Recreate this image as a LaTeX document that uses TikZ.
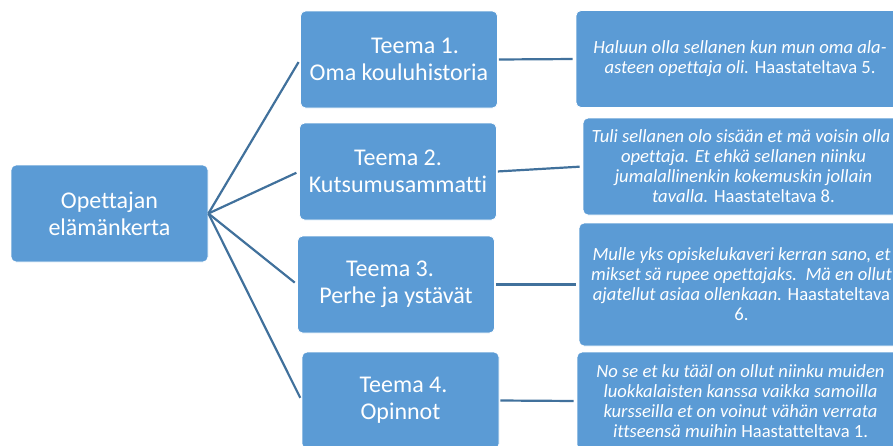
\documentclass[tikz,border=0pt]{standalone}
\usepackage{fontspec}
\setmainfont{Carlito}[Ligatures={NoCommon}]
\usepackage{tikz}
\usetikzlibrary{positioning}
\definecolor{boxblue}{HTML}{5B9BD5}
\definecolor{lineblue}{HTML}{41719C}

\begin{document}
\begin{tikzpicture}[
  x=1pt, y=-1pt,
  mybox/.style={draw=white,line width=0.8pt,fill=boxblue,rounded corners=5pt,
    text=white,align=center,inner sep=0pt},
  themebox/.style={mybox,minimum width=197pt,minimum height=97pt,
    font=\fontsize{24}{27}\selectfont},
  quotebox/.style={mybox,minimum height=97pt,
    font=\fontsize{18.6}{20}\selectfont},
  myline/.style={draw=lineblue,line width=2.2pt}
]
\useasboundingbox (0,0) rectangle (893,445);

\node[themebox] (root) at (109.5,213.5) {Opettajan\\elämänkerta};

\node[themebox] (t1) at (399,59.5) {\hspace*{32pt}Teema 1.\\Oma kouluhistoria};
\node[themebox] (t2) at (398,171.5) {Teema 2.\\Kutsumusammatti};
\node[themebox] (t3) at (396,284.5) {\hspace*{-12pt}Teema 3.\\Perhe ja ystävät};
\node[themebox] (t4) at (400.5,400.5) {\hspace*{6pt}Teema 4.\\Opinnot};

\node[quotebox,minimum width=328pt] (q1) at (740,59)
  {\textit{Haluun olla sellanen kun mun oma ala-}\\
   \textit{asteen opettaja oli.} Haastateltava 5.};
\node[quotebox,minimum width=321pt] (q2) at (743.5,166.5)
  {\hspace*{-5pt}\textit{Tuli sellanen olo sisään et mä voisin olla}\\
   \textit{opettaja. Et ehkä sellanen niinku}\\
   \textit{jumalallinenkin kokemuskin jollain}\\
   \textit{tavalla.} Haastateltava 8.};
\node[quotebox,minimum width=325pt,minimum height=123pt] (q3) at (741.5,284.5)
  {\textit{Mulle yks opiskelukaveri kerran sano, et}\\
   \textit{mikset sä rupee opettajaks.\ \ Mä en ollut}\\
   \textit{ajatellut asiaa ollenkaan.} Haastateltava\\
   6.};
\node[quotebox,minimum width=327pt,minimum height=98pt] (q4) at (740.5,401)
  {\textit{No se et ku tääl on ollut niinku muiden}\\
   \textit{luokkalaisten kanssa vaikka samoilla}\\
   \textit{kursseilla et on voinut vähän verrata}\\
   \textit{ittseensä muihin} Haastatteltava 1.};

% haarat
\path[myline,shorten >=3pt]
  (root.east) edge (t1.west)
  (root.east) edge (t2.west)
  (root.east) edge (t3.west)
  (root.east) edge (t4.west)
;
\path[myline,shorten >=3pt,shorten <=1pt]
  (t1.east) edge (q1.west)
  (t2.east) edge (q2.west)
  (t3.east) edge (q3.west)
  (t4.east) edge (q4.west)
;

\end{tikzpicture}
\end{document}
